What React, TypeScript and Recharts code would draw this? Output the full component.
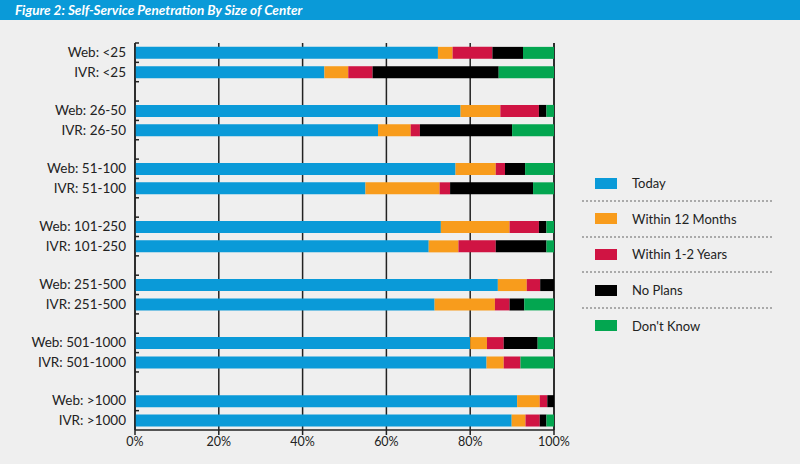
import { BarChart, Bar, XAxis, YAxis, CartesianGrid } from "recharts";

const sizes = ["<25", "26-50", "51-100", "101-250", "251-500", "501-1000", ">1000"];
const channels = ["Web", "IVR"];

// values in order: Web <25, IVR <25, Web 26-50, IVR 26-50, ...
const today = [72.3, 45.2, 77.7, 58.0, 76.5, 55.0, 73.0, 70.1, 86.6, 71.5, 80.0, 83.9, 91.2, 89.9];
const within12 = [3.5, 5.7, 9.5, 7.8, 9.6, 17.7, 16.4, 7.1, 6.9, 14.4, 4.0, 4.1, 5.4, 3.3];
const within1to2 = [9.5, 5.8, 9.2, 2.2, 2.2, 2.5, 7.0, 8.9, 3.2, 3.5, 4.0, 4.0, 1.8, 3.4];
const noPlans = [7.3, 30.1, 1.8, 22.0, 4.8, 19.8, 1.8, 12.1, 3.3, 3.5, 8.1, 0, 1.6, 1.6];
const dontKnow = [7.4, 13.2, 1.8, 10.0, 6.9, 5.0, 1.8, 1.8, 0, 7.1, 3.9, 8.0, 0, 1.8];

const xTicks = [0, 20, 40, 60, 80, 100];

const series = [
  { key: "today", name: "Today", color: "#0a9ad8" },
  { key: "within12", name: "Within 12 Months", color: "#f89c1c" },
  { key: "within1to2", name: "Within 1-2 Years", color: "#d01443" },
  { key: "noPlans", name: "No Plans", color: "#000000" },
  { key: "dontKnow", name: "Don't Know", color: "#03a650" },
];

type Row = { id: string; label: string; [k: string]: any };
const rows: Row[] = [];
sizes.forEach((s, si) => {
  channels.forEach((c, ci) => {
    const i = si * 2 + ci;
    rows.push({
      id: `${c}-${s}`,
      label: `${c}: ${s}`,
      today: today[i],
      within12: within12[i],
      within1to2: within1to2[i],
      noPlans: noPlans[i],
      dontKnow: dontKnow[i],
    });
  });
  if (si < sizes.length - 1) rows.push({ id: `gap-${si}`, label: "" });
});

const W = 800;
const H = 464;
const TOP = 43;
const BOTTOM = 34;
const FONT = "Lato, 'Open Sans', sans-serif";
const BAND = (H - TOP - BOTTOM) / rows.length;

const YTick = (props: any) => {
  const { x, y, payload } = props;
  const row = rows.find((r) => r.id === payload.value);
  return (
    <g>
      <line x1={x + 8} x2={x + 12} y1={y - BAND / 2} y2={y - BAND / 2} stroke="#222" strokeWidth={1.5} />
      {row && row.label && (
        <text x={x - 1} y={y} dy={4.5} textAnchor="end" fill="#222" fontSize={13.5} fontFamily={FONT}>
          {row.label}
        </text>
      )}
    </g>
  );
};

const LegendBox = () => (
  <div style={{ fontFamily: FONT, fontSize: 13, color: "#222", width: 190 }}>
    {series.map((s, i) => (
      <div key={s.key}>
        <div style={{ display: "flex", alignItems: "center", height: 20 }}>
          <span style={{ display: "inline-block", width: 22, height: 11, background: s.color, marginLeft: 13, marginRight: 15 }} />
          <span>{s.name}</span>
        </div>
        {i < series.length - 1 && (
          <div style={{ height: 15.7, display: "flex", alignItems: "center" }}>
            <div style={{ width: "100%", borderTop: "2px dotted #aaa" }} />
          </div>
        )}
      </div>
    ))}
  </div>
);

export default function App() {
  return (
    <div style={{ position: "absolute", left: 0, top: 0, width: W, height: H, background: "#efefef", overflow: "hidden" }}>
      <div
        style={{
          position: "absolute",
          left: 0,
          top: 0,
          width: W,
          height: 20,
          background: "#0a9ad8",
          color: "#fff",
          fontFamily: FONT,
          fontStyle: "italic",
          fontWeight: 700,
          fontSize: 13.5,
          lineHeight: "20px",
          paddingLeft: 15,
          boxSizing: "border-box",
        }}
      >
        Figure 2: Self-Service Penetration By Size of Center
      </div>
      <div style={{ position: "absolute", left: 0, top: 0 }}>
        <BarChart
          width={W}
          height={H}
          data={rows}
          layout="vertical"
          margin={{ top: TOP, right: 246, bottom: 0, left: 8 }}
          barCategoryGap="20%"
        >
          <CartesianGrid horizontal={false} stroke="#222" strokeWidth={1.5} />
          <XAxis
            type="number"
            domain={[0, 100]}
            ticks={xTicks}
            tickFormatter={(v) => `${v}%`}
            height={BOTTOM}
            stroke="#222"
            strokeWidth={1.5}
            tickSize={5}
            tick={{ fill: "#222", fontSize: 12.5, fontFamily: FONT }}
          />
          <YAxis
            type="category"
            dataKey="id"
            width={127}
            stroke="#222"
            strokeWidth={1.5}
            tickLine={false}
            interval={0}
            tick={<YTick />}
          />
          {series.map((s) => (
            <Bar key={s.key} dataKey={s.key} name={s.name} stackId="a" fill={s.color} isAnimationActive={false} />
          ))}
        </BarChart>
      </div>
      <div style={{ position: "absolute", left: 582, top: 173 }}>
        <LegendBox />
      </div>
    </div>
  );
}
